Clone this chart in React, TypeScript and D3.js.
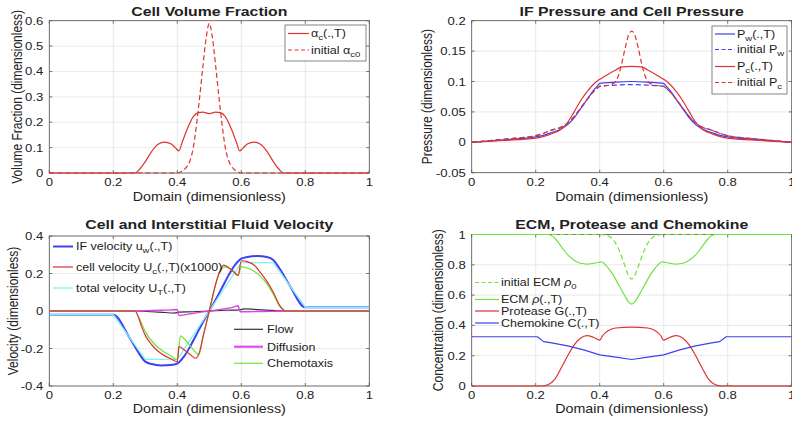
import React from "react";
import * as d3 from "d3";

const W = 792;
const H = 423;
const SX = 1.19;
const FONT = "'Liberation Sans', Arial, Helvetica, sans-serif";

const RED = "#dd3333";
const BLUE = "#4040ee";
const GREEN = "#72e23e";
const CYAN = "#80f2f4";
const MAGENTA = "#e040e8";
const BLACK = "#333333";

// shared x ticks
const xTickValues = [0, 0.2, 0.4, 0.6, 0.8, 1];
const xTickLabels = ["0", "0.2", "0.4", "0.6", "0.8", "1"];

// ---------- Panel 1: Cell Volume Fraction ----------
const volYTicks = [0, 0.1, 0.2, 0.3, 0.4, 0.5, 0.6];
const volYLabels = ["0", "0.1", "0.2", "0.3", "0.4", "0.5", "0.6"];
const alphaCX = [0, 0.268, 0.28, 0.30, 0.32, 0.34, 0.36, 0.38, 0.395, 0.405, 0.415, 0.43, 0.45, 0.465, 0.48, 0.50, 0.52, 0.535, 0.55, 0.57, 0.585, 0.595, 0.605, 0.62, 0.64, 0.66, 0.68, 0.70, 0.72, 0.732, 1];
const alphaCY = [0, 0, 0.012, 0.045, 0.085, 0.113, 0.122, 0.115, 0.098, 0.087, 0.12, 0.17, 0.222, 0.238, 0.24, 0.234, 0.24, 0.238, 0.222, 0.17, 0.12, 0.087, 0.098, 0.115, 0.122, 0.113, 0.085, 0.045, 0.012, 0, 0];
const alpha0X = [0, 0.40, 0.41, 0.42, 0.43, 0.44, 0.45, 0.46, 0.47, 0.48, 0.49, 0.50, 0.51, 0.52, 0.53, 0.54, 0.55, 0.56, 0.57, 0.58, 0.59, 0.60, 1];
const alpha0Y = [0, 0, 0.004, 0.012, 0.025, 0.05, 0.1, 0.19, 0.3, 0.42, 0.53, 0.59, 0.53, 0.42, 0.3, 0.19, 0.1, 0.05, 0.025, 0.012, 0.004, 0, 0];

// ---------- Panel 2: Pressures ----------
const presYTicks = [-0.05, 0, 0.05, 0.1, 0.15, 0.2];
const presYLabels = ["-0.05", "0", "0.05", "0.1", "0.15", "0.2"];
const pwX = [0, 0.1, 0.2, 0.22, 0.25, 0.28, 0.30, 0.32, 0.34, 0.36, 0.38, 0.395, 0.40, 0.45, 0.50, 0.55, 0.60, 0.605, 0.62, 0.64, 0.66, 0.68, 0.70, 0.72, 0.75, 0.78, 0.8, 0.9, 1];
const pwY = [0, 0.004, 0.009, 0.011, 0.016, 0.022, 0.029, 0.04, 0.055, 0.07, 0.085, 0.094, 0.097, 0.099, 0.1, 0.099, 0.097, 0.094, 0.085, 0.07, 0.055, 0.04, 0.029, 0.022, 0.016, 0.011, 0.009, 0.004, 0];
const pw0Y = [0, 0.005, 0.011, 0.014, 0.02, 0.025, 0.032, 0.042, 0.056, 0.07, 0.083, 0.09, 0.092, 0.094, 0.095, 0.094, 0.092, 0.09, 0.083, 0.07, 0.056, 0.042, 0.032, 0.025, 0.02, 0.014, 0.011, 0.005, 0];
const pcX = [0, 0.1, 0.2, 0.22, 0.25, 0.28, 0.30, 0.32, 0.34, 0.36, 0.38, 0.395, 0.405, 0.42, 0.45, 0.47, 0.50, 0.53, 0.55, 0.58, 0.595, 0.605, 0.62, 0.64, 0.66, 0.68, 0.70, 0.72, 0.75, 0.78, 0.8, 0.9, 1];
const pcY = [0, 0.003, 0.007, 0.009, 0.014, 0.022, 0.033, 0.05, 0.068, 0.083, 0.095, 0.102, 0.105, 0.11, 0.119, 0.124, 0.125, 0.124, 0.119, 0.11, 0.105, 0.102, 0.095, 0.083, 0.068, 0.05, 0.033, 0.022, 0.014, 0.009, 0.007, 0.003, 0];
const pc0X = [0, 0.1, 0.2, 0.22, 0.25, 0.28, 0.30, 0.32, 0.34, 0.36, 0.38, 0.395, 0.40, 0.43, 0.45, 0.46, 0.47, 0.48, 0.49, 0.50, 0.51, 0.52, 0.53, 0.54, 0.55, 0.57, 0.60, 0.605, 0.62, 0.64, 0.66, 0.68, 0.70, 0.72, 0.75, 0.78, 0.8, 0.9, 1];
const pc0Y = [0, 0.005, 0.011, 0.014, 0.02, 0.025, 0.032, 0.042, 0.056, 0.07, 0.083, 0.09, 0.092, 0.094, 0.1, 0.112, 0.132, 0.156, 0.176, 0.183, 0.176, 0.156, 0.132, 0.112, 0.1, 0.094, 0.092, 0.09, 0.083, 0.07, 0.056, 0.042, 0.032, 0.025, 0.02, 0.014, 0.011, 0.005, 0];

// ---------- Panel 3: Velocities ----------
const velYTicks = [-0.4, -0.2, 0, 0.2, 0.4];
const velYLabels = ["-0.4", "-0.2", "0", "0.2", "0.4"];
const uwX = [0, 0.2, 0.25, 0.28, 0.30, 0.32, 0.35, 0.38, 0.40, 0.42, 0.44, 0.46, 0.48, 0.50, 0.52, 0.54, 0.56, 0.58, 0.60, 0.62, 0.65, 0.68, 0.70, 0.72, 0.75, 0.8, 1];
const uwY = [-0.02, -0.02, -0.14, -0.225, -0.27, -0.283, -0.29, -0.288, -0.28, -0.245, -0.19, -0.125, -0.06, 0, 0.06, 0.125, 0.19, 0.245, 0.279, 0.288, 0.293, 0.288, 0.272, 0.225, 0.14, 0.02, 0.02];
const utX = [0, 0.2, 0.3, 0.4, 0.6, 0.7, 0.8, 1];
const utY = [-0.02, -0.02, -0.258, -0.258, 0.258, 0.258, 0.02, 0.02];
const ucX = [0, 0.268, 0.28, 0.29, 0.30, 0.32, 0.34, 0.36, 0.38, 0.40, 0.405, 0.425, 0.44, 0.458, 0.47, 0.48, 0.50, 0.518, 0.53, 0.545, 0.56, 0.575, 0.59, 0.6, 0.62, 0.64, 0.66, 0.68, 0.70, 0.72, 0.73, 0.737, 1];
const ucY = [0, 0, -0.04, -0.09, -0.13, -0.18, -0.215, -0.238, -0.255, -0.27, -0.19, -0.212, -0.232, -0.252, -0.215, -0.14, 0, 0.133, 0.2, 0.245, 0.232, 0.212, 0.19, 0.268, 0.262, 0.245, 0.205, 0.158, 0.1, 0.03, 0.008, 0, 0];
const chemX = [0, 0.268, 0.28, 0.30, 0.32, 0.34, 0.36, 0.38, 0.40, 0.41, 0.42, 0.44, 0.46, 0.468, 0.48, 0.50, 0.52, 0.535, 0.55, 0.57, 0.59, 0.60, 0.62, 0.64, 0.66, 0.68, 0.70, 0.72, 0.73, 0.74, 1];
const chemY = [0, 0, -0.035, -0.11, -0.16, -0.195, -0.22, -0.24, -0.26, -0.133, -0.145, -0.185, -0.225, -0.232, -0.14, 0, 0.14, 0.215, 0.235, 0.218, 0.19, 0.235, 0.228, 0.212, 0.185, 0.145, 0.09, 0.025, 0.008, 0, 0];
const flowX = [0, 0.27, 0.32, 0.36, 0.39, 0.405, 0.45, 0.5, 0.55, 0.595, 0.61, 0.64, 0.68, 0.73, 1];
const flowY = [0, 0, -0.004, -0.008, -0.011, -0.006, -0.004, 0, 0.004, 0.006, 0.011, 0.009, 0.005, 0, 0];
const diffX = [0, 0.27, 0.3, 0.35, 0.38, 0.40, 0.405, 0.43, 0.46, 0.5, 0.54, 0.57, 0.59, 0.597, 0.62, 0.65, 0.69, 0.73, 1];
const diffY = [0, 0, 0.002, 0.004, 0.006, 0.008, -0.024, -0.018, -0.01, 0, 0.01, 0.018, 0.028, -0.004, -0.004, -0.003, -0.002, 0, 0];

// ---------- Panel 4: ECM, Protease, Chemokine ----------
const concYTicks = [0, 0.2, 0.4, 0.6, 0.8, 1];
const concYLabels = ["0", "0.2", "0.4", "0.6", "0.8", "1"];
const ecmX = [0, 0.24, 0.26, 0.28, 0.30, 0.32, 0.34, 0.36, 0.38, 0.40, 0.405, 0.42, 0.44, 0.46, 0.48, 0.49, 0.50, 0.51, 0.52, 0.54, 0.56, 0.58, 0.595, 0.60, 0.62, 0.64, 0.66, 0.68, 0.70, 0.72, 0.74, 0.76, 1];
const ecmY = [1, 1, 0.975, 0.92, 0.865, 0.83, 0.81, 0.805, 0.81, 0.818, 0.82, 0.795, 0.74, 0.665, 0.59, 0.555, 0.54, 0.555, 0.59, 0.665, 0.74, 0.795, 0.82, 0.818, 0.81, 0.805, 0.81, 0.83, 0.865, 0.92, 0.975, 1, 1];
const ecm0X = [0, 0.40, 0.42, 0.44, 0.46, 0.47, 0.48, 0.49, 0.50, 0.51, 0.52, 0.53, 0.54, 0.56, 0.58, 0.60, 1];
const ecm0Y = [1, 1, 0.995, 0.97, 0.9, 0.845, 0.785, 0.73, 0.705, 0.73, 0.785, 0.845, 0.9, 0.97, 0.995, 1, 1];
const protX = [0, 0.22, 0.24, 0.26, 0.28, 0.30, 0.32, 0.34, 0.36, 0.38, 0.40, 0.41, 0.43, 0.45, 0.50, 0.55, 0.57, 0.59, 0.60, 0.62, 0.64, 0.66, 0.68, 0.70, 0.72, 0.74, 0.76, 0.78, 1];
const protY = [0, 0, 0.01, 0.045, 0.12, 0.2, 0.27, 0.315, 0.332, 0.322, 0.303, 0.335, 0.37, 0.383, 0.388, 0.383, 0.37, 0.335, 0.303, 0.322, 0.332, 0.315, 0.27, 0.2, 0.12, 0.045, 0.01, 0, 0];
const chemoX = [0, 0.205, 0.225, 0.25, 0.3, 0.35, 0.4, 0.45, 0.5, 0.55, 0.6, 0.65, 0.7, 0.75, 0.775, 0.795, 1];
const chemoY = [0.325, 0.325, 0.293, 0.285, 0.265, 0.238, 0.205, 0.19, 0.175, 0.19, 0.205, 0.238, 0.265, 0.285, 0.293, 0.325, 0.325];

type Series = {
  xs: number[];
  ys: number[];
  color: string;
  width?: number;
  dash?: string;
  linear?: boolean;
};

type Box = { l: number; r: number; t: number; b: number };

function STxt({ x, y, anchor = "start", size, weight = "normal", children }: any) {
  return (
    <text
      transform={`translate(${x},${y}) scale(${SX},1)`}
      textAnchor={anchor}
      fontSize={size}
      fontWeight={weight}
      fontFamily={FONT}
      fill="#222"
    >
      {children}
    </text>
  );
}

// rich legend label: pre [italic] + subscript + post
function Rich({ pre, ital, sub, post }: { pre: string; ital?: string; sub?: string; post?: string }) {
  return (
    <>
      <tspan>{pre}</tspan>
      {ital ? <tspan fontStyle="italic">{ital}</tspan> : null}
      {sub ? (
        <tspan dy={3} fontSize={8}>
          {sub}
        </tspan>
      ) : null}
      {post ? <tspan dy={sub ? -3 : 0}>{post}</tspan> : null}
    </>
  );
}

function Panel(props: {
  id: string;
  box: Box;
  yDomain: [number, number];
  yTicks: number[];
  yLabels: string[];
  title: string;
  titleY: number;
  ylabel: string;
  ylabelX: number;
  xTickY: number;
  xLabelY: number;
  series: Series[];
  children?: React.ReactNode;
}) {
  const { box, yDomain, yTicks, yLabels, title, titleY, ylabel, ylabelX, xTickY, xLabelY, series, id } = props;
  const xs = d3.scaleLinear().domain([0, 1]).range([box.l, box.r]);
  const ys = d3.scaleLinear().domain(yDomain).range([box.b, box.t]);
  const cx = (box.l + box.r) / 2;
  const cy = (box.t + box.b) / 2;
  const tl = 3;
  return (
    <g>
      <defs>
        <clipPath id={id}>
          <rect x={box.l} y={box.t - 2} width={box.r - box.l} height={box.b - box.t + 4} />
        </clipPath>
      </defs>
      <rect x={box.l} y={box.t} width={box.r - box.l} height={box.b - box.t} fill="#fff" />
      {xTickValues.map((v, i) => (
        <line key={"gx" + i} x1={xs(v)} x2={xs(v)} y1={box.t} y2={box.b} stroke="#e4e4e4" strokeWidth={0.8} />
      ))}
      {yTicks.map((v, i) => (
        <line key={"gy" + i} x1={box.l} x2={box.r} y1={ys(v)} y2={ys(v)} stroke="#e4e4e4" strokeWidth={0.8} />
      ))}
      <rect x={box.l} y={box.t} width={box.r - box.l} height={box.b - box.t} fill="none" stroke="#555" strokeWidth={0.8} />
      {xTickValues.map((v, i) => (
        <g key={"tx" + i}>
          <line x1={xs(v)} x2={xs(v)} y1={box.b} y2={box.b - tl} stroke="#555" strokeWidth={0.8} />
          <line x1={xs(v)} x2={xs(v)} y1={box.t} y2={box.t + tl} stroke="#555" strokeWidth={0.8} />
        </g>
      ))}
      {yTicks.map((v, i) => (
        <g key={"ty" + i}>
          <line x1={box.l} x2={box.l + tl} y1={ys(v)} y2={ys(v)} stroke="#555" strokeWidth={0.8} />
          <line x1={box.r} x2={box.r - tl} y1={ys(v)} y2={ys(v)} stroke="#555" strokeWidth={0.8} />
        </g>
      ))}
      <g clipPath={`url(#${id})`}>
        {series.map((s, i) => {
          const pts: [number, number][] = s.xs.map((x, k) => [x, s.ys[k]]);
          const gen = d3
            .line<[number, number]>()
            .x((d) => xs(d[0]))
            .y((d) => ys(d[1]))
            .curve(s.linear ? d3.curveLinear : d3.curveMonotoneX);
          return (
            <path
              key={"s" + i}
              d={gen(pts) || ""}
              fill="none"
              stroke={s.color}
              strokeWidth={s.width ?? 1.2}
              strokeDasharray={s.dash}
              strokeLinejoin="round"
            />
          );
        })}
      </g>
      {xTickValues.map((v, i) => (
        <STxt key={"lx" + i} x={xs(v)} y={xTickY} anchor="middle" size={11}>
          {xTickLabels[i]}
        </STxt>
      ))}
      {yTicks.map((v, i) => (
        <STxt key={"ly" + i} x={box.l - 6} y={ys(v) + 4} anchor="end" size={11}>
          {yLabels[i]}
        </STxt>
      ))}
      <STxt x={cx} y={titleY} anchor="middle" size={13.3} weight="bold">
        {title}
      </STxt>
      <STxt x={cx} y={xLabelY} anchor="middle" size={12}>
        Domain (dimensionless)
      </STxt>
      <text
        transform={`translate(${ylabelX},${cy}) scale(${SX},1) rotate(-90)`}
        textAnchor="middle"
        dy="0.36em"
        fontSize={12}
        fontFamily={FONT}
        fill="#222"
      >
        {ylabel}
      </text>
      {props.children}
    </g>
  );
}

function LegendRow({ x1, x2, tx, y, color, width = 1.2, dash, children }: any) {
  return (
    <g>
      <line x1={x1} x2={x2} y1={y} y2={y} stroke={color} strokeWidth={width} strokeDasharray={dash} />
      <STxt x={tx} y={y + 3.8} size={10.5}>
        {children}
      </STxt>
    </g>
  );
}

export default function App() {
  const p1: Box = { l: 49.3, r: 369.3, t: 20.7, b: 173 };
  const p2: Box = { l: 471.7, r: 791.7, t: 20.7, b: 172.7 };
  const p3: Box = { l: 49.3, r: 369.3, t: 236, b: 386 };
  const p4: Box = { l: 471.7, r: 791.7, t: 234.5, b: 386 };
  const DASH = "5,3";
  return (
    <svg
      width={W}
      height={H}
      viewBox={`0 0 ${W} ${H}`}
      style={{ position: "absolute", left: 0, top: 0, background: "#fff" }}
    >
      <rect x={0} y={0} width={W} height={H} fill="#fff" />
      <Panel
        id="c1"
        box={p1}
        yDomain={[0, 0.6]}
        yTicks={volYTicks}
        yLabels={volYLabels}
        title="Cell Volume Fraction"
        titleY={15.5}
        ylabel="Volume Fraction (dimensionless)"
        ylabelX={17}
        xTickY={186}
        xLabelY={200.5}
        series={[
          { xs: alphaCX, ys: alphaCY, color: RED },
          { xs: alpha0X, ys: alpha0Y, color: RED, dash: DASH },
        ]}
      >
        <rect x={285} y={25} width={81} height={36} fill="#fff" stroke="#666" strokeWidth={0.8} />
        <LegendRow x1={288} x2={309} tx={311} y={33.5} color={RED}>
          <Rich pre="α" sub="c" post="(.,T)" />
        </LegendRow>
        <LegendRow x1={288} x2={309} tx={311} y={50} color={RED} dash="4,2.5">
          <Rich pre="initial α" sub="c0" />
        </LegendRow>
      </Panel>
      <Panel
        id="c2"
        box={p2}
        yDomain={[-0.05, 0.2]}
        yTicks={presYTicks}
        yLabels={presYLabels}
        title="IF Pressure and Cell Pressure"
        titleY={15.5}
        ylabel="Pressure (dimensionless)"
        ylabelX={427}
        xTickY={186}
        xLabelY={200.5}
        series={[
          { xs: pwX, ys: pw0Y, color: BLUE, dash: DASH },
          { xs: pwX, ys: pwY, color: BLUE },
          { xs: pc0X, ys: pc0Y, color: RED, dash: DASH },
          { xs: pcX, ys: pcY, color: RED },
        ]}
      >
        <rect x={712} y={26} width={75} height={68} fill="#fff" stroke="#666" strokeWidth={0.8} />
        <LegendRow x1={715} x2={735} tx={737} y={34} color={BLUE}>
          <Rich pre="P" sub="w" post="(.,T)" />
        </LegendRow>
        <LegendRow x1={715} x2={735} tx={737} y={49.5} color={BLUE} dash="4,2.5">
          <Rich pre="initial P" sub="w" />
        </LegendRow>
        <LegendRow x1={715} x2={735} tx={737} y={66.5} color={RED}>
          <Rich pre="P" sub="c" post="(.,T)" />
        </LegendRow>
        <LegendRow x1={715} x2={735} tx={737} y={82.5} color={RED} dash="4,2.5">
          <Rich pre="initial P" sub="c" />
        </LegendRow>
      </Panel>
      <Panel
        id="c3"
        box={p3}
        yDomain={[-0.4, 0.4]}
        yTicks={velYTicks}
        yLabels={velYLabels}
        title="Cell and Interstitial Fluid Velocity"
        titleY={228.5}
        ylabel="Velocity (dimensionless)"
        ylabelX={13}
        xTickY={398.5}
        xLabelY={413}
        series={[
          { xs: uwX, ys: uwY, color: BLUE, width: 2 },
          { xs: utX, ys: utY, color: CYAN, linear: true, width: 1.3 },
          { xs: flowX, ys: flowY, color: BLACK },
          { xs: diffX, ys: diffY, color: MAGENTA, width: 1.4 },
          { xs: chemX, ys: chemY, color: GREEN },
          { xs: ucX, ys: ucY, color: RED },
        ]}
      >
        <LegendRow x1={53} x2={73} tx={76} y={246.5} color={BLUE} width={2}>
          <Rich pre="IF velocity u" sub="w" post="(.,T)" />
        </LegendRow>
        <LegendRow x1={53} x2={73} tx={76} y={267} color={RED}>
          <Rich pre="cell velocity U" sub="c" post="(.,T)(x1000)" />
        </LegendRow>
        <LegendRow x1={53} x2={73} tx={76} y={288} color={CYAN} width={1.3}>
          <Rich pre="total velocity U" sub="T" post="(.,T)" />
        </LegendRow>
        <LegendRow x1={234} x2={263} tx={267} y={329.3} color={BLACK}>
          Flow
        </LegendRow>
        <LegendRow x1={234} x2={263} tx={267} y={346.7} color={MAGENTA} width={2}>
          Diffusion
        </LegendRow>
        <LegendRow x1={234} x2={263} tx={267} y={363.3} color={GREEN}>
          Chemotaxis
        </LegendRow>
      </Panel>
      <Panel
        id="c4"
        box={p4}
        yDomain={[0, 1]}
        yTicks={concYTicks}
        yLabels={concYLabels}
        title="ECM, Protease and Chemokine"
        titleY={228.5}
        ylabel="Concentration (dimensionless)"
        ylabelX={438}
        xTickY={398.5}
        xLabelY={413}
        series={[
          { xs: ecm0X, ys: ecm0Y, color: GREEN, dash: DASH },
          { xs: ecmX, ys: ecmY, color: GREEN },
          { xs: protX, ys: protY, color: RED },
          { xs: chemoX, ys: chemoY, color: BLUE, linear: true },
        ]}
      >
        <LegendRow x1={475} x2={499} tx={501} y={282.5} color={GREEN} dash="4,2.5">
          <Rich pre="initial ECM " ital="ρ" sub="0" />
        </LegendRow>
        <LegendRow x1={475} x2={499} tx={501} y={299.5} color={GREEN}>
          <Rich pre="ECM " ital="ρ" post="(.,T)" />
        </LegendRow>
        <LegendRow x1={475} x2={499} tx={501} y={311} color={RED}>
          Protease G(.,T)
        </LegendRow>
        <LegendRow x1={475} x2={499} tx={501} y={323} color={BLUE}>
          Chemokine C(.,T)
        </LegendRow>
      </Panel>
    </svg>
  );
}
